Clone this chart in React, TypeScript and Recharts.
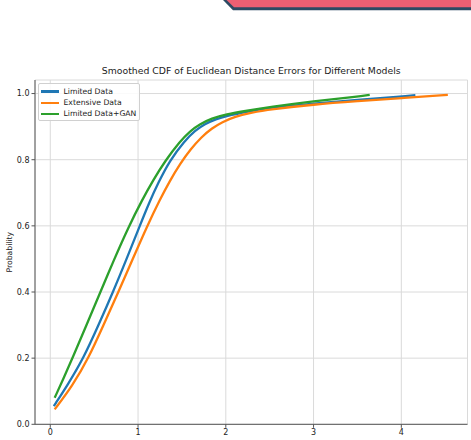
import React from 'react';
import { LineChart, Line, XAxis, YAxis, CartesianGrid, Legend } from 'recharts';

const limitedX = [0.04, 0.2, 0.379, 0.55, 0.715, 0.87, 1.02, 1.13, 1.23, 1.36, 1.53, 1.65, 1.76, 1.89, 2.0, 2.24, 2.5, 3.0, 3.5, 4.0, 4.16];
const limitedY = [0.055, 0.12, 0.2, 0.3, 0.4, 0.5, 0.6, 0.672, 0.73, 0.797, 0.857, 0.888, 0.908, 0.923, 0.932, 0.945, 0.957, 0.97, 0.981, 0.991, 0.995];

const extensiveX = [0.05, 0.25, 0.436, 0.606, 0.78, 0.94, 1.105, 1.25, 1.36, 1.48, 1.6, 1.72, 1.84, 1.96, 2.1, 2.3, 2.5, 3.0, 3.5, 4.0, 4.53];
const extensiveY = [0.045, 0.115, 0.2, 0.3, 0.402, 0.5, 0.6, 0.68, 0.735, 0.788, 0.832, 0.868, 0.895, 0.914, 0.93, 0.943, 0.952, 0.967, 0.977, 0.986, 0.996];

const ganX = [0.05, 0.15, 0.258, 0.4, 0.568, 0.72, 0.89, 1.05, 1.17, 1.31, 1.48, 1.59, 1.7, 1.84, 2.0, 2.24, 2.5, 3.0, 3.5, 3.64];
const ganY = [0.08, 0.138, 0.203, 0.292, 0.398, 0.494, 0.596, 0.68, 0.737, 0.797, 0.856, 0.886, 0.907, 0.925, 0.937, 0.948, 0.959, 0.977, 0.991, 0.996];

const xTicks = [0, 1, 2, 3, 4];
const yTicks = [0, 0.2, 0.4, 0.6, 0.8, 1.0];

const seriesNames = ['Limited Data', 'Extensive Data', 'Limited Data+GAN'];
const seriesColors = ['#1f77b4', '#ff7f0e', '#2ca02c'];

const title = 'Smoothed CDF of Euclidean Distance Errors for Different Models';
const yLabel = 'Probability';

const toPoints = (xs: number[], ys: number[]) => xs.map((x, i) => ({ x, y: ys[i] }));
const limitedData = toPoints(limitedX, limitedY);
const extensiveData = toPoints(extensiveX, extensiveY);
const ganData = toPoints(ganX, ganY);

const FONT = '"DejaVu Sans", sans-serif';

const renderLegend = () => (
  <div
    style={{
      position: 'relative',
      width: 102,
      height: 38,
      boxSizing: 'border-box',
      border: '1px solid #d0d0d0',
      borderRadius: 2,
      background: 'rgba(255,255,255,0.85)',
      fontFamily: FONT,
      fontSize: 7.7,
      color: '#222',
    }}
  >
    {seriesNames.map((n, i) => (
      <div key={n} style={{ position: 'absolute', left: 0, top: 7.7 + i * 11.3 - 6, height: 12, width: 100 }}>
        <div style={{ position: 'absolute', left: 2, top: 4.8, width: 18, height: 2.3, background: seriesColors[i] }} />
        <div style={{ position: 'absolute', left: 24.5, top: 0, lineHeight: '12px', whiteSpace: 'nowrap' }}>{n}</div>
      </div>
    ))}
  </div>
);

export default function App() {
  return (
    <div style={{ position: 'absolute', left: 0, top: 0, width: 471, height: 440, background: '#fff', overflow: 'hidden' }}>
      <svg width={471} height={12} style={{ position: 'absolute', left: 0, top: 0 }}>
        <polygon points="223,0 233,10.3 471,10.3 471,0" fill="#2c4a63" />
        <polygon points="226.5,0 234,7.3 471,7.3 471,0" fill="#ec5f73" />
      </svg>
      <div
        style={{
          position: 'absolute',
          left: 35,
          width: 432.5,
          top: 65,
          textAlign: 'center',
          fontFamily: FONT,
          fontSize: 9.3,
          color: '#222',
          whiteSpace: 'nowrap',
          lineHeight: '12px',
        }}
      >
        {title}
      </div>
      <div style={{ position: 'absolute', left: 0, top: 0 }}>
        <LineChart width={471} height={440} margin={{ top: 80, right: 3.5, left: 0, bottom: 0 }}>
          <CartesianGrid stroke="#dadada" strokeWidth={1} />
          <XAxis
            dataKey="x"
            type="number"
            domain={[-0.174, 4.754]}
            ticks={xTicks}
            allowDataOverflow
            height={15.7}
            tickSize={3.5}
            tickMargin={2}
            stroke="#555"
            tick={{ fontSize: 8, fill: '#222', fontFamily: FONT }}
          />
          <XAxis xAxisId="top" orientation="top" type="number" domain={[-0.174, 4.754]} height={0} tick={false} tickLine={false} stroke="#555" />
          <YAxis
            type="number"
            domain={[0, 1.041]}
            ticks={yTicks}
            allowDataOverflow
            width={35}
            tickSize={3.5}
            tickMargin={2}
            stroke="#555"
            tickFormatter={(v: number) => v.toFixed(1)}
            tick={{ fontSize: 8, fill: '#222', fontFamily: FONT }}
            label={({ viewBox }: any) => (
              <text
                x={10}
                y={viewBox.y + viewBox.height / 2}
                transform={`rotate(-90, 10, ${viewBox.y + viewBox.height / 2})`}
                textAnchor="middle"
                dominantBaseline="central"
                fontSize={7.7}
                fill="#222"
                fontFamily={FONT}
              >
                {yLabel}
              </text>
            )}
          />
          <YAxis yAxisId="right" orientation="right" type="number" domain={[0, 1.041]} width={0} tick={false} tickLine={false} stroke="#555" />
          <Legend
            content={renderLegend}
            layout="vertical"
            align="center"
            verticalAlign="middle"
            wrapperStyle={{ left: 38, top: 83, width: 102, height: 38 }}
          />
          <Line data={limitedData} dataKey="y" type="basis" stroke={seriesColors[0]} strokeWidth={2.3} dot={false} isAnimationActive={false} name={seriesNames[0]} />
          <Line data={extensiveData} dataKey="y" type="basis" stroke={seriesColors[1]} strokeWidth={2.3} dot={false} isAnimationActive={false} name={seriesNames[1]} />
          <Line data={ganData} dataKey="y" type="basis" stroke={seriesColors[2]} strokeWidth={2.3} dot={false} isAnimationActive={false} name={seriesNames[2]} />
        </LineChart>
      </div>
    </div>
  );
}
